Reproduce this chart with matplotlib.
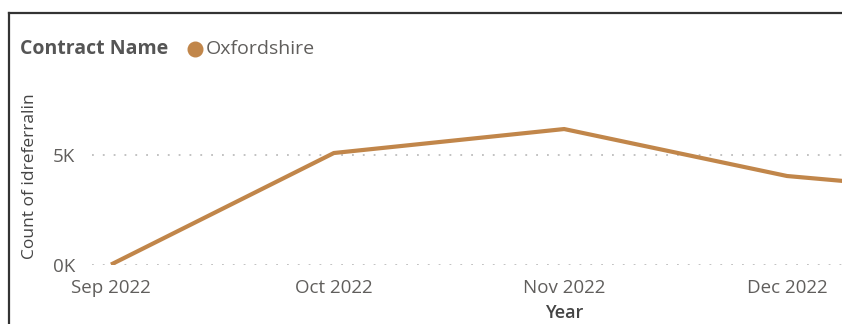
import matplotlib
matplotlib.use("Agg")
import matplotlib.pyplot as plt
from matplotlib.lines import Line2D
import datetime as dt

plt.rcParams['font.family'] = ['Open Sans', 'DejaVu Sans']

months = ["2022-09-01", "2022-10-01", "2022-11-01", "2022-12-01", "2023-01-01"]
counts = [20, 5090, 6180, 4045, 3120]
tick_labels = ["Sep 2022", "Oct 2022", "Nov 2022", "Dec 2022"]
legend_title = "Contract Name"
series_name = "Oxfordshire"
x_title = "Year"
y_title = "Count of idreferralin"

dates = [dt.datetime.strptime(m, "%Y-%m-%d") for m in months]

W, H = 842, 324
fig = plt.figure(figsize=(W / 100, H / 100), dpi=100)
fig.patch.set_facecolor("white")

ax_l, ax_r = 92, 842
ax_b, ax_t = 265, 89
ax = fig.add_axes([ax_l / W, 1 - ax_b / H, (ax_r - ax_l) / W, (ax_b - ax_t) / H])

line_color = "#C1864A"
ax.plot(dates, counts, color=line_color, lw=3.0, solid_joinstyle="round",
        solid_capstyle="butt", clip_on=True, zorder=3)

px_per_day = (787 - 111) / 91.0
x0 = dates[0] - dt.timedelta(days=(111 - ax_l) / px_per_day)
x1 = dates[0] + dt.timedelta(days=(ax_r - 111) / px_per_day)
ax.set_xlim(x0, x1)
ax.set_ylim(0, 5000 * (ax_b - ax_t) / 110.0)

ax.set_xticks(dates[:4])
ax.set_xticklabels(tick_labels)
ax.set_yticks([0, 5000])
ax.set_yticklabels(["0K", "5K"])

ax.tick_params(axis="both", length=0, labelsize=13.5, labelcolor="#605E5C")
ax.tick_params(axis="x", pad=10)
ax.tick_params(axis="y", pad=12)
ax.grid(axis="y", color="#BDBDBD", linestyle=(0, (1, 5)), lw=1.3)
ax.grid(axis="x", visible=False)
for s in ax.spines.values():
    s.set_visible(False)
ax.set_facecolor("none")

fig.text(30 / W, 1 - 176 / H, y_title, rotation=90, ha="center", va="center",
         fontsize=12.5, color="#444444")
fig.text(564 / W, 1 - 313 / H, x_title, ha="center", va="center",
         fontsize=13, color="#444444", fontweight="semibold")

fig.text(20 / W, 1 - 49 / H, legend_title, ha="left", va="center",
         fontsize=14, color="#555555", fontweight="bold")
fig.add_artist(Line2D([195 / W], [1 - 49 / H], marker="o", markersize=10.5,
                      color=line_color, transform=fig.transFigure))
fig.text(206 / W, 1 - 49 / H, series_name, ha="left", va="center",
         fontsize=14, color="#605E5C")

fig.add_artist(Line2D([8.5 / W, 1.0], [1 - 12.5 / H, 1 - 12.5 / H], color="#333333",
                      lw=1.6, transform=fig.transFigure))
fig.add_artist(Line2D([8.5 / W, 8.5 / W], [1 - 12.5 / H, 0], color="#333333",
                      lw=1.6, transform=fig.transFigure))

fig.savefig("out.png", dpi=100, facecolor="white")
